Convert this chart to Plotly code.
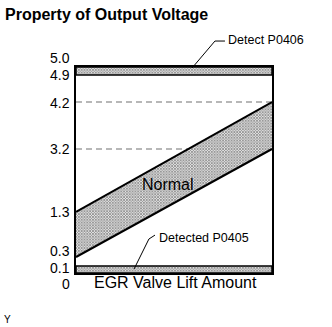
import numpy as np
import plotly.graph_objects as go

# Output voltage levels (V) marked on the vertical axis
tick_volts = [0.0, 0.1, 0.3, 1.3, 3.2, 4.2, 4.9, 5.0]
tick_text = ["0", "0.1", "0.3", "1.3", "3.2", "4.2", "4.9", "5.0"]

# Schematic (not-to-scale) axis: height given to each labelled level
axis_stops = [0, 7, 16, 61, 124, 171, 198, 206]
# vertical nudge (px) of each level label so close levels stay readable
label_nudge = [-11, -2, 6, 0, 0, -1, 0, 9]

# Normal output band at zero lift and at full lift (V)
lift = [0.0, 1.0]
normal_low = [0.3, 3.2]
normal_high = [1.3, 4.2]

# Fault bands (V)
p0406_band = [4.9, 5.0]
p0405_band = [0.0, 0.1]

# Dashed reference levels (V)
ref_levels = [4.2, 3.2]


def ys(v):
    """Map voltages onto the schematic vertical axis."""
    return list(np.interp(v, tick_volts, axis_stops))


FONT = "Arial, Liberation Sans, sans-serif"
pattern = dict(shape="x", size=2, solidity=0.65, fgcolor="#333333", bgcolor="#e4e4e4")

fig = go.Figure()

# dashed reference levels
for lv in ref_levels:
    fig.add_trace(go.Scatter(
        x=lift, y=ys([lv, lv]), mode="lines",
        line=dict(color="#a0a0a0", width=1.5, dash="6px,4px"),
        hoverinfo="skip", showlegend=False))

# normal band between the two lines
fig.add_trace(go.Scatter(
    x=lift + lift[::-1], y=ys(normal_low + normal_high[::-1]),
    mode="lines", fill="toself", fillcolor="#e4e4e4", fillpattern=pattern,
    line=dict(color="rgba(0,0,0,0)", width=0),
    hoverinfo="skip", showlegend=False))
for edge in (normal_low, normal_high):
    fig.add_trace(go.Scatter(
        x=lift, y=ys(edge), mode="lines",
        line=dict(color="black", width=2),
        hoverinfo="skip", showlegend=False))

# fault bands
for lo, hi in (p0406_band, p0405_band):
    fig.add_trace(go.Scatter(
        x=[0, 1, 1, 0, 0], y=ys([lo, lo, hi, hi, lo]),
        mode="lines", fill="toself", fillcolor="#e4e4e4", fillpattern=pattern,
        line=dict(color="black", width=1.5),
        hoverinfo="skip", showlegend=False))

# leader lines for the fault labels
fig.add_shape(type="path", xref="paper", yref="paper",
              path="M 0.592 0.995 L 0.709 1.126 L 0.760 1.126",
              line=dict(color="black", width=1))
fig.add_shape(type="path", xref="paper", yref="paper",
              path="M 0.296 0.019 L 0.372 0.165 L 0.403 0.184",
              line=dict(color="black", width=1))

annotations = [
    dict(text="Detect P0406", x=0.765, y=1.131, xref="paper", yref="paper",
         xanchor="left", yanchor="middle", showarrow=False,
         font=dict(size=12.5, family=FONT, color="black")),
    dict(text="Detected P0405", x=0.413, y=0.170, xref="paper", yref="paper",
         xanchor="left", yanchor="middle", showarrow=False,
         font=dict(size=12.5, family=FONT, color="black")),
    dict(text="Normal", x=0.469, y=0.432, xref="paper", yref="paper",
         xanchor="center", yanchor="middle", showarrow=False,
         font=dict(size=16, family=FONT, color="black")),
    dict(text="EGR Valve Lift Amount", x=0.51, y=-0.044, xref="paper", yref="paper",
         xanchor="center", yanchor="middle", showarrow=False,
         font=dict(size=16, family=FONT, color="black")),
    dict(text="Y", x=-0.352, y=-0.228, xref="paper", yref="paper",
         xanchor="center", yanchor="middle", showarrow=False,
         font=dict(size=10, family=FONT, color="black")),
]

# voltage level labels along the left edge
for v, txt, dy in zip(tick_volts, tick_text, label_nudge):
    annotations.append(dict(
        text=txt, x=0, xref="paper", y=ys([v])[0], yref="y",
        xanchor="right", yanchor="middle", xshift=-4, yshift=dy,
        showarrow=False, font=dict(size=14, family=FONT, color="black")))

fig.update_layout(
    width=332, height=327,
    margin=dict(l=76, r=60, t=67, b=54),
    paper_bgcolor="white", plot_bgcolor="white",
    title=dict(text="<b>Property of Output Voltage</b>", x=5 / 332, xanchor="left",
               xref="container", y=1 - 14 / 327, yref="container", yanchor="middle",
               font=dict(size=16, family=FONT, color="black")),
    annotations=annotations,
    xaxis=dict(range=[0, 1], showgrid=False, zeroline=False, showticklabels=False,
               ticks="", showline=True, linecolor="black", linewidth=1.5, mirror=True,
               fixedrange=True),
    yaxis=dict(range=[0, 206], showgrid=False, zeroline=False,
               showticklabels=False, ticks="",
               showline=True, linecolor="black", linewidth=1.5, mirror=True,
               fixedrange=True),
    showlegend=False,
)

fig.write_html("out.html")
